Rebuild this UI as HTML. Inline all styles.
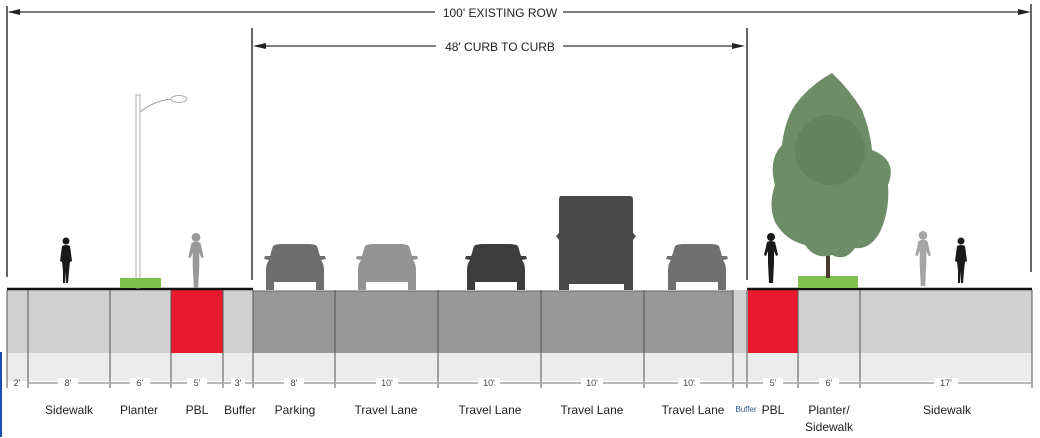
<!DOCTYPE html>
<html><head><meta charset="utf-8"><style>
html,body{margin:0;padding:0;background:#fff;}
svg{display:block;}
text{font-family:"Liberation Sans",sans-serif;}
</style></head><body>
<svg width="1040" height="438" viewBox="0 0 1040 438" xmlns="http://www.w3.org/2000/svg">
<defs>
<symbol id="car" viewBox="0 0 64 46"><path d="M10,2 Q12,0 20,0 L44,0 Q52,0 54,2 L57,12 L62,12 L63,15 L58,16 Q61,20 61,26 L61,46 L53,46 L53,41 L11,41 L11,46 L3,46 L3,26 Q3,20 6,16 L1,15 L2,12 L7,12 Z"/></symbol>
<symbol id="ped" viewBox="0 0 16 46"><circle cx="8" cy="4" r="3.5"/><path d="M4,9 Q8,7 12,9 L14,24 L12,25 L11,34 L10,46 L8,46 L8,34 L7,46 L5,46 L5,34 L4,25 L2,24 Z"/></symbol>
<symbol id="bike" viewBox="0 0 18 50"><circle cx="9" cy="4" r="4"/><path d="M5,9 Q9,7 13,9 L16,22 L14,23 L12,18 L12,30 L11,50 L7,50 L6,30 L6,18 L4,23 L2,22 Z"/></symbol>
</defs>
<line x1="7" y1="6" x2="7" y2="277" stroke="#333" stroke-width="1.5"/>
<line x1="1031" y1="4" x2="1031" y2="272" stroke="#333" stroke-width="1.5"/>
<line x1="9" y1="12" x2="435" y2="12" stroke="#333" stroke-width="1.3"/>
<path d="M8,12 L20,9 L20,15 Z" fill="#222"/>
<line x1="563" y1="12" x2="1022" y2="12" stroke="#333" stroke-width="1.3"/>
<path d="M1031,12 L1018,9 L1018,15 Z" fill="#222"/>
<text x="500" y="17" font-size="12" text-anchor="middle" fill="#222">100' EXISTING ROW</text>
<line x1="252" y1="28" x2="252" y2="280" stroke="#333" stroke-width="1.5"/>
<line x1="747" y1="28" x2="747" y2="280" stroke="#333" stroke-width="1.5"/>
<line x1="262" y1="46" x2="436" y2="46" stroke="#333" stroke-width="1.3"/>
<path d="M253,46 L266,43 L266,49 Z" fill="#222"/>
<line x1="563" y1="46" x2="735" y2="46" stroke="#333" stroke-width="1.3"/>
<path d="M745,46 L732,43 L732,49 Z" fill="#222"/>
<text x="500" y="51" font-size="12" text-anchor="middle" fill="#222">48' CURB TO CURB</text>
<rect x="7" y="353" width="1025" height="28" fill="#ececec"/>
<rect x="7" y="290" width="246" height="63" fill="#d0d0d0"/>
<rect x="733" y="290" width="299" height="63" fill="#d0d0d0"/>
<rect x="253" y="291" width="480" height="62" fill="#989898"/>
<rect x="171" y="289" width="52" height="64" fill="#e8192f"/>
<rect x="748" y="289" width="50" height="64" fill="#e8192f"/>
<line x1="7" y1="289" x2="253" y2="289" stroke="#111" stroke-width="2.5"/>
<line x1="747" y1="289" x2="1032" y2="289" stroke="#111" stroke-width="2.5"/>
<line x1="253" y1="291" x2="733" y2="291" stroke="#666" stroke-width="1"/>
<g stroke="#555" stroke-width="1">
<line x1="7" y1="290" x2="7" y2="388"/><line x1="28" y1="290" x2="28" y2="388"/>
<line x1="110" y1="290" x2="110" y2="388"/><line x1="171" y1="290" x2="171" y2="388"/>
<line x1="223" y1="290" x2="223" y2="388"/><line x1="253" y1="290" x2="253" y2="388"/>
<line x1="335" y1="290" x2="335" y2="388"/><line x1="438" y1="290" x2="438" y2="388"/>
<line x1="541" y1="290" x2="541" y2="388"/><line x1="644" y1="290" x2="644" y2="388"/>
<line x1="733" y1="290" x2="733" y2="388"/><line x1="747" y1="290" x2="747" y2="388"/>
<line x1="798" y1="290" x2="798" y2="388"/><line x1="860" y1="290" x2="860" y2="388"/>
<line x1="1032" y1="290" x2="1032" y2="388"/>
</g>
<g stroke="#444" stroke-width="0.8">
<line x1="29" y1="383" x2="109" y2="383"/><line x1="111" y1="383" x2="170" y2="383"/>
<line x1="172" y1="383" x2="222" y2="383"/><line x1="224" y1="383" x2="252" y2="383"/>
<line x1="254" y1="383" x2="334" y2="383"/><line x1="336" y1="383" x2="437" y2="383"/>
<line x1="439" y1="383" x2="540" y2="383"/><line x1="542" y1="383" x2="643" y2="383"/>
<line x1="645" y1="383" x2="732" y2="383"/><line x1="734" y1="383" x2="746" y2="383"/>
<line x1="748" y1="383" x2="797" y2="383"/><line x1="799" y1="383" x2="859" y2="383"/>
<line x1="861" y1="383" x2="1031" y2="383"/>
</g>
<g font-size="9" fill="#444" text-anchor="middle">
<rect x="58" y="378" width="20" height="9" fill="#fff"/><text x="68" y="386">8'</text>
<rect x="130" y="378" width="20" height="9" fill="#fff"/><text x="140" y="386">6'</text>
<rect x="187" y="378" width="20" height="9" fill="#fff"/><text x="197" y="386">5'</text>
<rect x="231" y="378" width="14" height="9" fill="#fff"/><text x="238" y="386">3'</text>
<rect x="284" y="378" width="20" height="9" fill="#fff"/><text x="294" y="386">8'</text>
<rect x="376" y="378" width="22" height="9" fill="#fff"/><text x="387" y="386">10'</text>
<rect x="478" y="378" width="22" height="9" fill="#fff"/><text x="489" y="386">10'</text>
<rect x="581" y="378" width="22" height="9" fill="#fff"/><text x="592" y="386">10'</text>
<rect x="678" y="378" width="22" height="9" fill="#fff"/><text x="689" y="386">10'</text>
<rect x="763" y="378" width="20" height="9" fill="#fff"/><text x="773" y="386">5'</text>
<rect x="819" y="378" width="20" height="9" fill="#fff"/><text x="829" y="386">6'</text>
<rect x="934" y="378" width="24" height="9" fill="#fff"/><text x="946" y="386">17'</text>
<text x="17" y="386">2'</text>
</g>
<g font-size="12" fill="#222" text-anchor="middle">
<text x="69" y="414">Sidewalk</text>
<text x="139" y="414">Planter</text>
<text x="197" y="414">PBL</text>
<text x="240" y="414">Buffer</text>
<text x="295" y="414">Parking</text>
<text x="386" y="414">Travel Lane</text>
<text x="490" y="414">Travel Lane</text>
<text x="592" y="414">Travel Lane</text>
<text x="693" y="414">Travel Lane</text>
<text x="746" y="412" font-size="8" fill="#2a5a9a">Buffer</text>
<text x="773" y="414">PBL</text>
<text x="829" y="414">Planter/</text>
<text x="829" y="431">Sidewalk</text>
<text x="947" y="414">Sidewalk</text>
</g>
<line x1="1" y1="352" x2="1" y2="437" stroke="#1a4fb0" stroke-width="2"/>
<use href="#car" x="263" y="244" width="64" height="46" fill="#6e6e6e"/>
<use href="#car" x="355" y="244" width="64" height="46" fill="#939393"/>
<use href="#car" x="464" y="244" width="64" height="46" fill="#3d3d3d"/>
<use href="#car" x="665" y="244" width="64" height="46" fill="#707070"/>
<g fill="#fff"><rect x="274" y="282" width="42" height="3"/><rect x="366" y="282" width="42" height="3"/><rect x="475" y="282" width="42" height="3"/><rect x="676" y="282" width="42" height="3"/></g>
<path d="M561,196 L630,196 Q633,196 633,200 L633,233 L636,236 L633,240 L633,290 L624,290 L624,284 L569,284 L569,290 L559,290 L559,240 L556,236 L559,233 L559,200 Q559,196 561,196 Z" fill="#4a4a4a"/>
<use href="#ped" x="58" y="234" width="16" height="52" fill="#1a1a1a"/>
<use href="#ped" x="953" y="234" width="16" height="52" fill="#1a1a1a"/>
<use href="#bike" x="186" y="233" width="20" height="55" fill="#999"/>
<use href="#bike" x="913" y="231" width="20" height="55" fill="#a5a5a5"/>
<use href="#bike" x="762" y="229" width="18" height="58" fill="#1a1a1a"/>
<rect x="136" y="95" width="4" height="193" fill="#fff" stroke="#999" stroke-width="0.8"/>
<path d="M140,112 Q155,100 173,99" stroke="#999" fill="none" stroke-width="1"/>
<ellipse cx="179" cy="99" rx="8" ry="3.5" fill="#fff" stroke="#999" stroke-width="0.8"/>
<rect x="120" y="278" width="41" height="10" fill="#7cc04a"/>
<rect x="798" y="276" width="60" height="12" fill="#80c050"/>
<rect x="826" y="200" width="4" height="78" fill="#4a3a30"/>
<path d="M832,73 Q850,90 862,110 Q870,130 872,150 Q898,160 888,185 Q890,210 880,232 Q870,250 855,248 Q845,262 832,255 Q815,260 805,245 Q785,240 775,222 Q768,205 775,185 Q768,160 782,145 Q785,120 795,105 Q810,85 832,73 Z" fill="#6f8c68"/>
<circle cx="830" cy="150" r="35" fill="#5f7c58" opacity="0.6"/>
</svg>
</body></html>
